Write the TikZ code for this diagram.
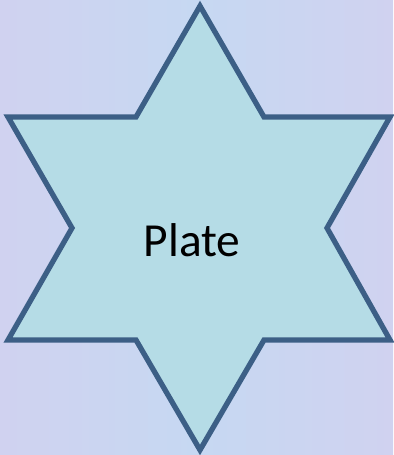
\documentclass[tikz,border=0pt]{standalone}
\usepackage{fontspec}
\setmainfont{Carlito}
\usetikzlibrary{positioning}
\definecolor{bgblue}{RGB}{198,216,242}
\definecolor{bgpink}{RGB}{208,210,240}
\definecolor{starfill}{RGB}{181,220,230}
\definecolor{stardraw}{RGB}{60,95,134}

\begin{document}
\begin{tikzpicture}[
  x=0.02cm, y=-0.02cm,
  starline/.style={draw=stardraw, line width=3pt, line join=miter, fill=starfill},
  label/.style={font=\fontsize{27}{32}\selectfont, text=black}
]
% background
\fill[left color=bgpink, right color=bgpink, middle color=bgblue] (0,0) rectangle (393,455);
\useasboundingbox (0,0) rectangle (393,455);
% star outline
\draw[starline] (200,6) -- (264,117) -- (390,117) -- (327,228) -- (390,340) -- (264,340)
  -- (200,450) -- (136,340) -- (8,340) -- (72,228) -- (8,117) -- (136,117) -- cycle;
\node[label] (plate) at (192,240) {Plate};
\end{tikzpicture}
\end{document}
